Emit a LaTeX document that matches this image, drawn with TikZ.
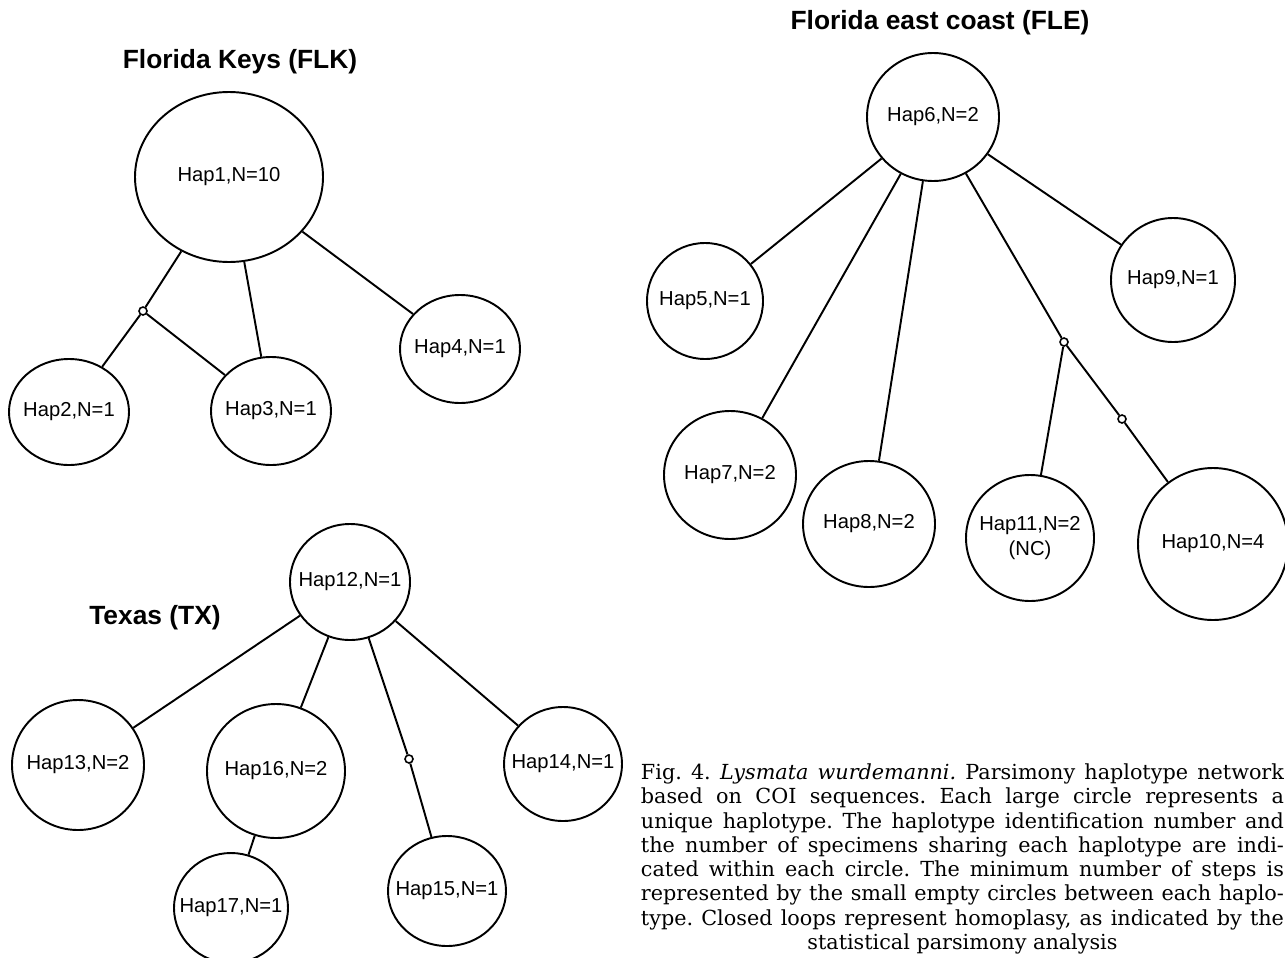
\documentclass[tikz,border=0pt]{standalone}
\usepackage{fontspec}
\newfontfamily\hapfont{Liberation Sans}
\newfontfamily\capfont{DejaVu Serif}
\usetikzlibrary{shapes.geometric}
\tikzset{ hap/.style 2 args = { ellipse % haplotype
        , draw
        , line width = 1.1pt
        , inner sep = 0pt
        , minimum width = #1cm
        , minimum height = #2cm
        }
        , mv/.style = { circle % missing step
        , draw
        , fill = white
        , line width = 0.9pt
        , inner sep = 0pt
        , minimum size = 1.6mm
        }
        }

\begin{document}
\begin{tikzpicture}[line width=1.1pt,
        every label/.append style={font=\hapfont\fontsize{11.5pt}{13.8pt}\selectfont, inner sep=0pt},
        title_style/.style={font=\hapfont\fontsize{15pt}{18pt}\selectfont\bfseries},
        caption_style/.style={inner sep=0pt, text width=12.86cm, font=\capfont\fontsize{11.8pt}{13.8pt}\selectfont},
        edge_style/.style={draw=black, line width=1.1pt}]
        \useasboundingbox (0,0) rectangle (25.70,-19.14);

        % Florida Keys
        \node [title_style](tflk) at (4.80,-1.24) {Florida Keys (FLK)};
        \node [hap={3.76}{3.40},label={center:Hap1,N=10}](h1) at (4.58,-3.54) {};
        \node [hap={2.40}{2.12},label={center:Hap2,N=1}](h2) at (1.38,-8.24) {};
        \node [hap={2.40}{2.16},label={center:Hap3,N=1}](h3) at (5.42,-8.22) {};
        \node [hap={2.40}{2.16},label={center:Hap4,N=1}](h4) at (9.20,-6.98) {};
        \node [mv](s1) at (2.86,-6.22) {};
        \draw [edge_style] (h1) to (s1);
        \draw [edge_style] (s1) to (h2);
        \draw [edge_style] (s1) to (h3);
        \draw [edge_style] (h1) to (h3);
        \draw [edge_style] (h1) to (h4);

        % Texas
        \node [title_style](ttx) at (3.10,-12.36) {Texas (TX)};
        \node [hap={2.40}{2.32},label={center:Hap12,N=1}](h12) at (7.00,-11.64) {};
        \node [hap={2.64}{2.60},label={center:Hap13,N=2}](h13) at (1.56,-15.30) {};
        \node [hap={2.76}{2.68},label={center:Hap16,N=2}](h16) at (5.52,-15.42) {};
        \node [hap={2.28}{2.20},label={center:Hap17,N=1}](h17) at (4.62,-18.16) {};
        \node [hap={2.36}{2.20},label={center:Hap15,N=1}](h15) at (8.94,-17.82) {};
        \node [hap={2.36}{2.28},label={center:Hap14,N=1}](h14) at (11.26,-15.28) {};
        \node [mv](s2) at (8.18,-15.18) {};
        \draw [edge_style] (h12) to (h13);
        \draw [edge_style] (h12) to (h16);
        \draw [edge_style] (h16) to (h17);
        \draw [edge_style] (h12) to (s2);
        \draw [edge_style] (s2) to (h15);
        \draw [edge_style] (h12) to (h14);

        % Florida east coast
        \node [title_style](tfle) at (18.80,-0.46) {Florida east coast (FLE)};
        \node [hap={2.64}{2.56},label={center:Hap6,N=2}](h6) at (18.66,-2.34) {};
        \node [hap={2.32}{2.32},label={center:Hap5,N=1}](h5) at (14.10,-6.02) {};
        \node [hap={2.48}{2.48},label={center:Hap9,N=1}](h9) at (23.46,-5.60) {};
        \node [hap={2.64}{2.56},label={center:Hap7,N=2}](h7) at (14.60,-9.50) {};
        \node [hap={2.64}{2.52},label={center:Hap8,N=2}](h8) at (17.38,-10.48) {};
        \node [hap={2.56}{2.52},label={[align=center]center:Hap11,N=2\\(NC)}](h11) at (20.60,-10.76) {};
        \node [hap={3.00}{3.04},label={center:Hap10,N=4}](h10) at (24.26,-10.88) {};
        \node [mv](s3) at (21.28,-6.84) {};
        \node [mv](s4) at (22.44,-8.38) {};
        \draw [edge_style] (h6) to (h5);
        \draw [edge_style] (h6) to (h7);
        \draw [edge_style] (h6) to (h8);
        \draw [edge_style] (h6) to (s3);
        \draw [edge_style] (s3) to (h11);
        \draw [edge_style] (s3) to (s4);
        \draw [edge_style] (s4) to (h10);
        \draw [edge_style] (h6) to (h9);

        % caption
        \node [caption_style,anchor=north west,align=justify](cap) at (12.80,-15.26) {\frenchspacing\parfillskip=0pt
        Fig. 4. \textit{Lysmata wurdemanni.} Parsimony haplotype network\linebreak
        based on COI sequences. Each large circle represents a\linebreak
        unique haplotype. The haplotype identification number and\linebreak
        the number of specimens sharing each haplotype are indi-\linebreak
        cated within each circle. The minimum number of steps is\linebreak
        represented by the small empty circles between each haplo-\linebreak
        type. Closed loops represent homoplasy, as indicated by the\par
        {\centering statistical parsimony analysis\par}};
\end{tikzpicture}
\end{document}
